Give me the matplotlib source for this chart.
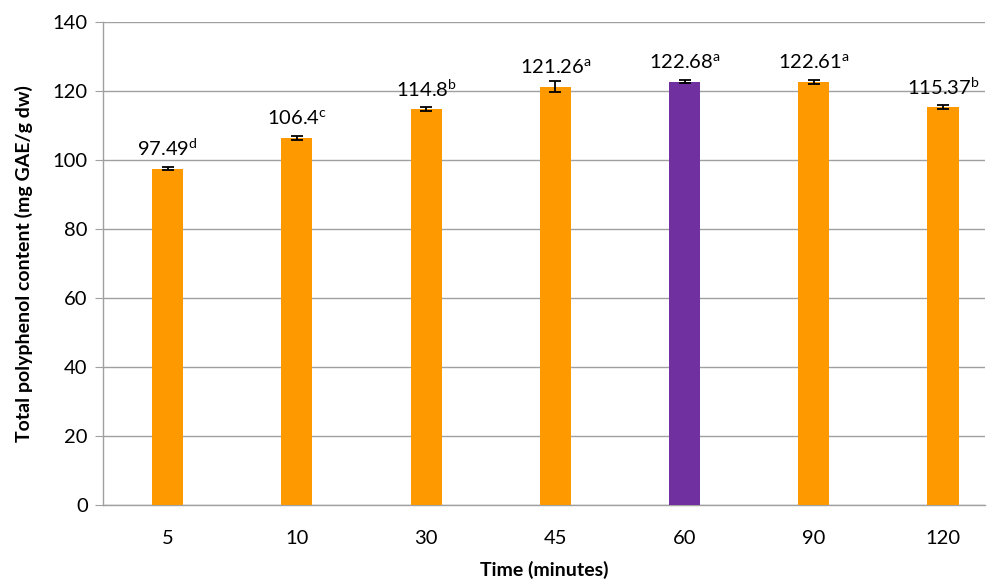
import matplotlib
matplotlib.use("Agg")
import matplotlib.pyplot as plt

times = ["5", "10", "30", "45", "60", "90", "120"]
tpc = [97.49, 106.4, 114.8, 121.26, 122.68, 122.61, 115.37]
err = [0.5, 0.5, 0.6, 1.5, 0.5, 0.6, 0.5]
letters = ["d", "c", "b", "a", "a", "a", "b"]
colors = ["#FF9900", "#FF9900", "#FF9900", "#FF9900", "#7030A0", "#FF9900", "#FF9900"]

plt.rcParams['font.family'] = ['Lato', 'DejaVu Sans']
plt.rcParams['mathtext.fontset'] = 'custom'
plt.rcParams['mathtext.rm'] = 'Lato'

fig = plt.figure(figsize=(9.98, 5.83), dpi=100)
ax = fig.add_axes([103 / 998, 1 - 505 / 583, (985 - 103) / 998, (505 - 22) / 583])

x = list(range(len(times)))
ax.bar(x, tpc, width=0.24, color=colors, zorder=3)
ax.errorbar(x, tpc, yerr=err, fmt='none', ecolor='black', elinewidth=1.3,
            capsize=4, capthick=1.3, zorder=4)

for i, v in enumerate(tpc):
    ax.annotate(f"{v:g}" + r"$^{\mathrm{" + letters[i] + "}}$", (i, v),
                xytext=(0, 9), textcoords='offset points', ha='center',
                va='baseline', fontsize=14.5)

ax.set_xlim(-0.5, 6 + 42 / 129.25)
ax.set_ylim(0, 140)
ax.set_yticks(range(0, 141, 20))
ax.set_xticks(x)
ax.set_xticklabels(times)
ax.tick_params(axis='x', length=0, labelsize=14.5, pad=18)
ax.tick_params(axis='y', length=6, color='#A0A0A0', labelsize=14.5, pad=5)
ax.grid(axis='y', color='#A0A0A0', linewidth=1, zorder=0)
for s in ['top', 'right']:
    ax.spines[s].set_visible(False)
for s in ['left', 'bottom']:
    ax.spines[s].set_color('#A0A0A0')
    ax.spines[s].set_linewidth(1)

ax.set_xlabel("Time (minutes)", fontsize=14, fontweight='bold', labelpad=10)
ax.set_ylabel("Total polyphenol content (mg GAE/g dw)", fontsize=14,
              fontweight='bold', labelpad=14)

fig.savefig("out.png", dpi=100)
